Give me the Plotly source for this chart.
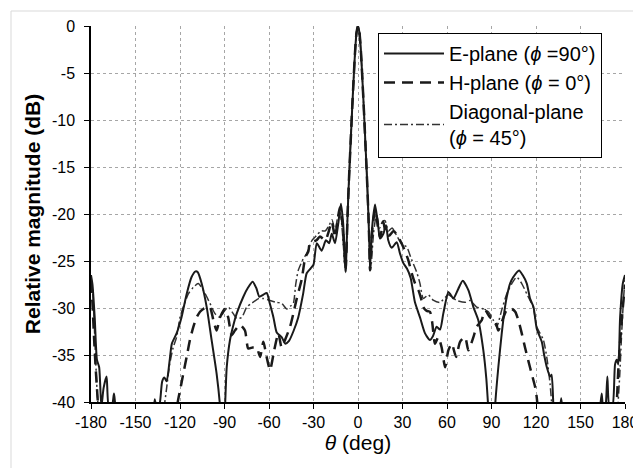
import plotly.graph_objects as go

# ---------------- data ----------------
e_theta = [-180, -179, -177.5, -176, -174.5, -173, -171.5, -169.5, -168, -166, -164.5, -163.5, -160,
           -140, -137, -135.5, -133.5, -132, -130.5, -129, -127, -125.5, -122.3, -119, -115.5, -112.2,
           -109.5, -108, -105.4, -102, -98.7, -95.3, -93, -92, -90.5, -89.5, -88.5, -86.3, -84, -81.8,
           -77.3, -74, -71, -68.5, -66.5, -64, -61.5, -59.5, -57, -54.8, -51.5, -49, -46.5, -43.6,
           -40.3, -37, -34.6, -32, -30, -27.8, -24.5, -21.6, -19.4, -17.7, -15.5, -13.3, -11.5, -10,
           -8.3, -7.6, -7, -6, -5, -4, -3, -2, -1, 0, 1, 2, 3, 4, 5, 6, 7, 7.6, 8.1, 9.5, 11.5, 13.7,
           14.8, 17.1, 18.9, 20.4, 22.7, 26.1, 28.3, 30.5, 33, 35.5, 38.4, 41.8, 45.2, 48.5, 50.5, 53,
           55.3, 57.5, 60.9, 62.5, 64.3, 67.5, 70.6, 74.4, 77.8, 81.1, 84.5, 86.5, 88, 89.5, 91.5, 92.4,
           94.6, 96.9, 99.1, 100.3, 102.5, 104.7, 108.6, 111, 113.8, 116, 118.3, 120.5, 123.9, 125.5,
           127.3, 129.5, 130.5, 131.7, 133, 136, 137, 138, 140, 162, 163, 164.3, 165.5, 166.5, 168.1,
           169.5, 171.5, 173.3, 174.5, 175.5, 176.7, 178.5, 180]
e_db = [-26.5, -27.5, -31, -35.5, -36.3, -40.5, -38.5, -37.3, -40.5, -40.5, -39.1, -40.5, -43,
        -43, -39.7, -41, -40, -37.8, -37.4, -37.8, -35.6, -33.8, -32.7, -31, -28.5, -26.7,
        -26.1, -26.2, -27.4, -29.9, -33.4, -37, -40.5, -44, -44, -40, -36.3, -33.4, -31.8, -30.6,
        -28.8, -27.8, -27.2, -27.9, -28.8, -28.6, -28.4, -29.5, -31, -32.6, -33.1, -33.8, -33.5, -32.5,
        -31.0, -28.5, -26.3, -25.8, -25.4, -23.1, -23.9, -22.8, -23.1, -22.1, -23.1, -21, -18.9, -21,
        -26.2, -23, -20, -16, -12.5, -9, -5.8, -2.8, -0.7, 0, -0.7, -2.8, -5.8, -9, -12.5, -16, -20, -23, -25.8, -21.5, -19.0, -21.4,
        -22.6, -22.1, -21.2, -22.8, -23.6, -23.0, -24.2, -25.2, -25.8, -26.8, -29.4, -31, -32.7, -33.4, -33.0, -32.0,
        -32.3, -30.6, -28.3, -28.6, -29.0, -28, -27.1, -28.1, -29.9, -31.3, -34.5, -37.5, -41, -44, -44, -40.5,
        -36.3, -32.7, -29.9, -28.8, -27.4, -26.7, -26.0, -26.5, -27.4, -29.0, -29.9, -32.2, -33.6, -35,
        -36.3, -37.3, -37.1, -40.3, -43, -41, -39.6, -41, -44, -44, -41, -39.1, -41, -41, -37.3,
        -40.5, -40.5, -36, -35.5, -36, -31, -27.4, -26.5]

h_theta = [-180, -179, -178, -177, -176, -175, -174, -124, -121.5, -120, -117.8, -115.5, -113.3, -111,
           -108.8, -106.5, -104.3, -101.5, -99.8, -97.5, -95.3, -93, -89.7, -87.5, -85.2, -83, -79.6,
           -76.2, -74, -71, -68.3, -66, -63.8, -61.6, -59.3, -56.5, -53.7, -51.5, -49.2, -45.8, -43.6,
           -41.3, -38, -35.5, -33.5, -32.4, -28, -25.6, -22, -20, -17.7, -15.5, -14, -12.3, -10.5, -8.3,
           -7.6, -7, -6, -5, -4, -3, -2, -1, 0, 1, 2, 3, 4, 5, 6, 7, 7.6,
           8.1, 10, 11.8, 13.5, 15, 17, 19, 21, 24, 27, 30.5, 33.9, 36.2, 38.5, 40.7, 42.9, 44, 46.3,
           48.5, 50, 51.9, 54.1, 56.4, 58.7, 60.9, 63.2, 66.1, 68.8, 72.2, 74.4, 77.8, 80, 83.4, 85.6,
           89, 92.4, 94.6, 98, 100.3, 103.7, 106, 108.1, 110.4, 112.6, 114.8, 117.1, 119.4, 120.5, 122,
           124, 173, 174.5, 175.5, 177, 178.5, 180]
h_db = [-27.2, -29.5, -33, -36, -38.5, -41, -44, -44, -40, -38.8, -37, -35.2, -33.4, -32,
        -31, -30.4, -30.1, -29.9, -29.9, -31.3, -32.4, -31, -30.1, -31, -32.9, -32.4, -31.8,
        -32.4, -34.3, -34.2, -34.2, -35.2, -33.6, -35.2, -36.6, -34.5, -32.7, -34.2, -33.4, -32, -30.6,
        -29, -27, -24.6, -24.0, -23.1, -22.8, -22.4, -22.8, -22, -20.8, -22.5, -21, -19.3, -21, -26,
        -23, -20, -16, -12.5, -9, -5.8, -2.8, -0.7, 0, -0.7, -2.8, -5.8, -9, -12.5, -16, -20, -23,
        -26, -21, -19.5, -21.5, -22.5, -20.8, -22.2, -22.3, -21.8, -22.4, -23.5, -24.9, -26.3, -27.4, -28.1, -29.2, -29.9, -30.3,
        -30.4, -31.5, -33.8, -33.1, -34.2, -36.3, -34.5, -33.8, -35.2, -33.6, -33.1, -34.5, -33.1, -32, -31.3, -30.2,
        -31, -31.3, -32.4, -31, -30.2, -30.1, -30.4, -31.3, -32.7, -34.2, -35.6, -37, -38.4, -39.5, -42,
        -44, -44, -40, -36.5, -33, -30, -27.5]

d_theta = [-180, -179, -178, -177, -176, -175, -174, -133, -131, -129, -127, -124.6, -122.3, -120,
           -117.8, -114.4, -111, -107.7, -104.3, -99.8, -96.4, -93, -90, -87.5, -84.1, -81.8, -78.4,
           -75, -71.7, -67, -63.8, -59.3, -55, -51.5, -48, -45.5, -43.6, -42, -40.3, -37, -34.6, -31,
           -28, -25, -22, -19.5, -17.5, -15.5, -13.5, -12, -10.5, -8.5,
           -7.6, -7, -6, -5, -4, -3, -2, -1, 0, 1, 2, 3, 4, 5, 6, 7, 7.6,
           8.5, 10.5, 12.5, 14.5, 16.5, 18.2, 20.5, 23, 26.1, 29.5, 32.8, 36, 39.6, 41.8, 44, 47.4, 51,
           55.3, 60.9, 66.6, 72.2, 75.5, 80, 84.5, 87.9, 91.2, 93.5, 96.9, 100.3, 103.7, 107, 110.4,
           113.8, 116, 118.3, 120.5, 125, 127.5, 129.5, 131, 133, 174, 175, 176.5, 177.5, 179, 180]
d_db = [-26.8, -28, -31, -35, -38.5, -41, -44, -44, -41, -38.5, -36, -34.2, -33.1, -31,
        -29.9, -28.5, -27.8, -27.4, -28.1, -29.5, -30.6, -31, -30.3, -29.9, -30.6, -31.1, -31,
        -29.9, -29.5, -29, -29, -29.2, -29.4, -29.5, -30.1, -29.8, -29.5, -27.5, -26, -24.8, -24.2, -22.8,
        -22.3, -21.8, -21.8, -21.2, -20.6, -21.8, -20.2, -19.8, -22, -26,
        -23, -20, -16, -12.5, -9, -5.8, -2.8, -0.7, 0, -0.7, -2.8, -5.8, -9, -12.5, -16, -20, -23,
        -26, -22, -20, -21.5, -20.8, -20.7, -21.8, -21.5, -22.3, -23.2, -23.5, -24.8, -26.2, -27.4, -29, -28.6, -29.2,
        -29.4, -28.6, -29.2, -29.4, -29.2, -29.9, -30.1, -30.4, -31.3, -32, -30.2, -28.5, -27.4, -26.7, -27.4,
        -28.5, -29.2, -30, -32, -33.4, -35.5, -38.1, -41, -44, -44, -41, -37, -33.5, -29, -27]

x_tick_vals = [-180, -150, -120, -90, -60, -30, 0, 30, 60, 90, 120, 150, 180]
x_tick_text = ["-180", "-150", "-120", "-90", "-60", "-30", "0", "30", "60", "90", "120", "150", "180"]
y_tick_vals = [0, -5, -10, -15, -20, -25, -30, -35, -40]
y_tick_text = ["0", "-5", "-10", "-15", "-20", "-25", "-30", "-35", "-40"]

names = ["E-plane (<i>ϕ</i> =90°)", "H-plane (<i>ϕ</i> = 0°)", "Diagonal-plane<br>(<i>ϕ</i> = 45°)"]

# ---------------- figure ----------------
FONT = "Liberation Sans, Arial, sans-serif"
fig = go.Figure()

fig.add_trace(go.Scatter(x=d_theta, y=d_db, mode="lines", name=names[2],
                         line=dict(color="#333333", width=1.5, dash="8px,3px,2px,3px", shape="spline", smoothing=0.6)))
fig.add_trace(go.Scatter(x=h_theta, y=h_db, mode="lines", name=names[1],
                         line=dict(color="#1a1a1a", width=2.5, dash="11px,7px", shape="spline", smoothing=0.6)))
fig.add_trace(go.Scatter(x=e_theta, y=e_db, mode="lines", name=names[0],
                         line=dict(color="#1a1a1a", width=2, shape="spline", smoothing=0.6)))

# the page body adds an 8 px offset; margins below are in figure pixels
OFF = 8
W, H = 641, 468
L, R, T, B = 91 - OFF, 16 + OFF, 26 - OFF, 66 + OFF
pw, ph = W - L - R, H - T - B

fig.update_layout(
    template="none",
    width=W, height=H,
    margin=dict(l=L, r=R, t=T, b=B, pad=0),
    paper_bgcolor="white", plot_bgcolor="white",
    font=dict(family=FONT, size=16, color="black"),
    showlegend=True,
    legend=dict(x=(378 - OFF - L) / pw, y=1 - (33 - OFF - T) / ph, xanchor="left", yanchor="top",
                bgcolor="white", bordercolor="black", borderwidth=1,
                font=dict(family=FONT, size=20, color="black"),
                traceorder="reversed", tracegroupgap=0, itemwidth=60),
    xaxis=dict(range=[-180, 180], tickmode="array", tickvals=x_tick_vals, ticktext=x_tick_text,
               automargin=False,
               showgrid=True, gridcolor="#a6a6a6", griddash="dot", gridwidth=1,
               showline=True, linecolor="black", linewidth=2,
               ticks="outside", ticklen=5, tickcolor="black", tickwidth=1,
               zeroline=False, tickfont=dict(size=16),
               title=dict(text="<i>θ</i> (deg)", font=dict(size=21), standoff=4)),
    yaxis=dict(range=[-40, 0], tickmode="array", tickvals=y_tick_vals, ticktext=y_tick_text,
               automargin=False,
               showgrid=True, gridcolor="#a6a6a6", griddash="dot", gridwidth=1,
               showline=True, linecolor="black", linewidth=1.5,
               ticks="outside", ticklen=5, tickcolor="black", tickwidth=1,
               ticklabelstandoff=6,
               zeroline=False, tickfont=dict(size=16),
               title=dict(text="<b>Relative magnitude (dB)</b>", font=dict(size=21), standoff=6)),
)

# light chart-area frame
fig.add_shape(type="rect", xref="paper", yref="paper",
              x0=(11 - OFF - L) / pw, x1=(W + 5 - L) / pw,
              y0=1 - (H + 5 - T) / ph, y1=1 - (11 - OFF - T) / ph,
              line=dict(color="#d9d9d9", width=1), layer="below")

fig.write_html("out.html")
